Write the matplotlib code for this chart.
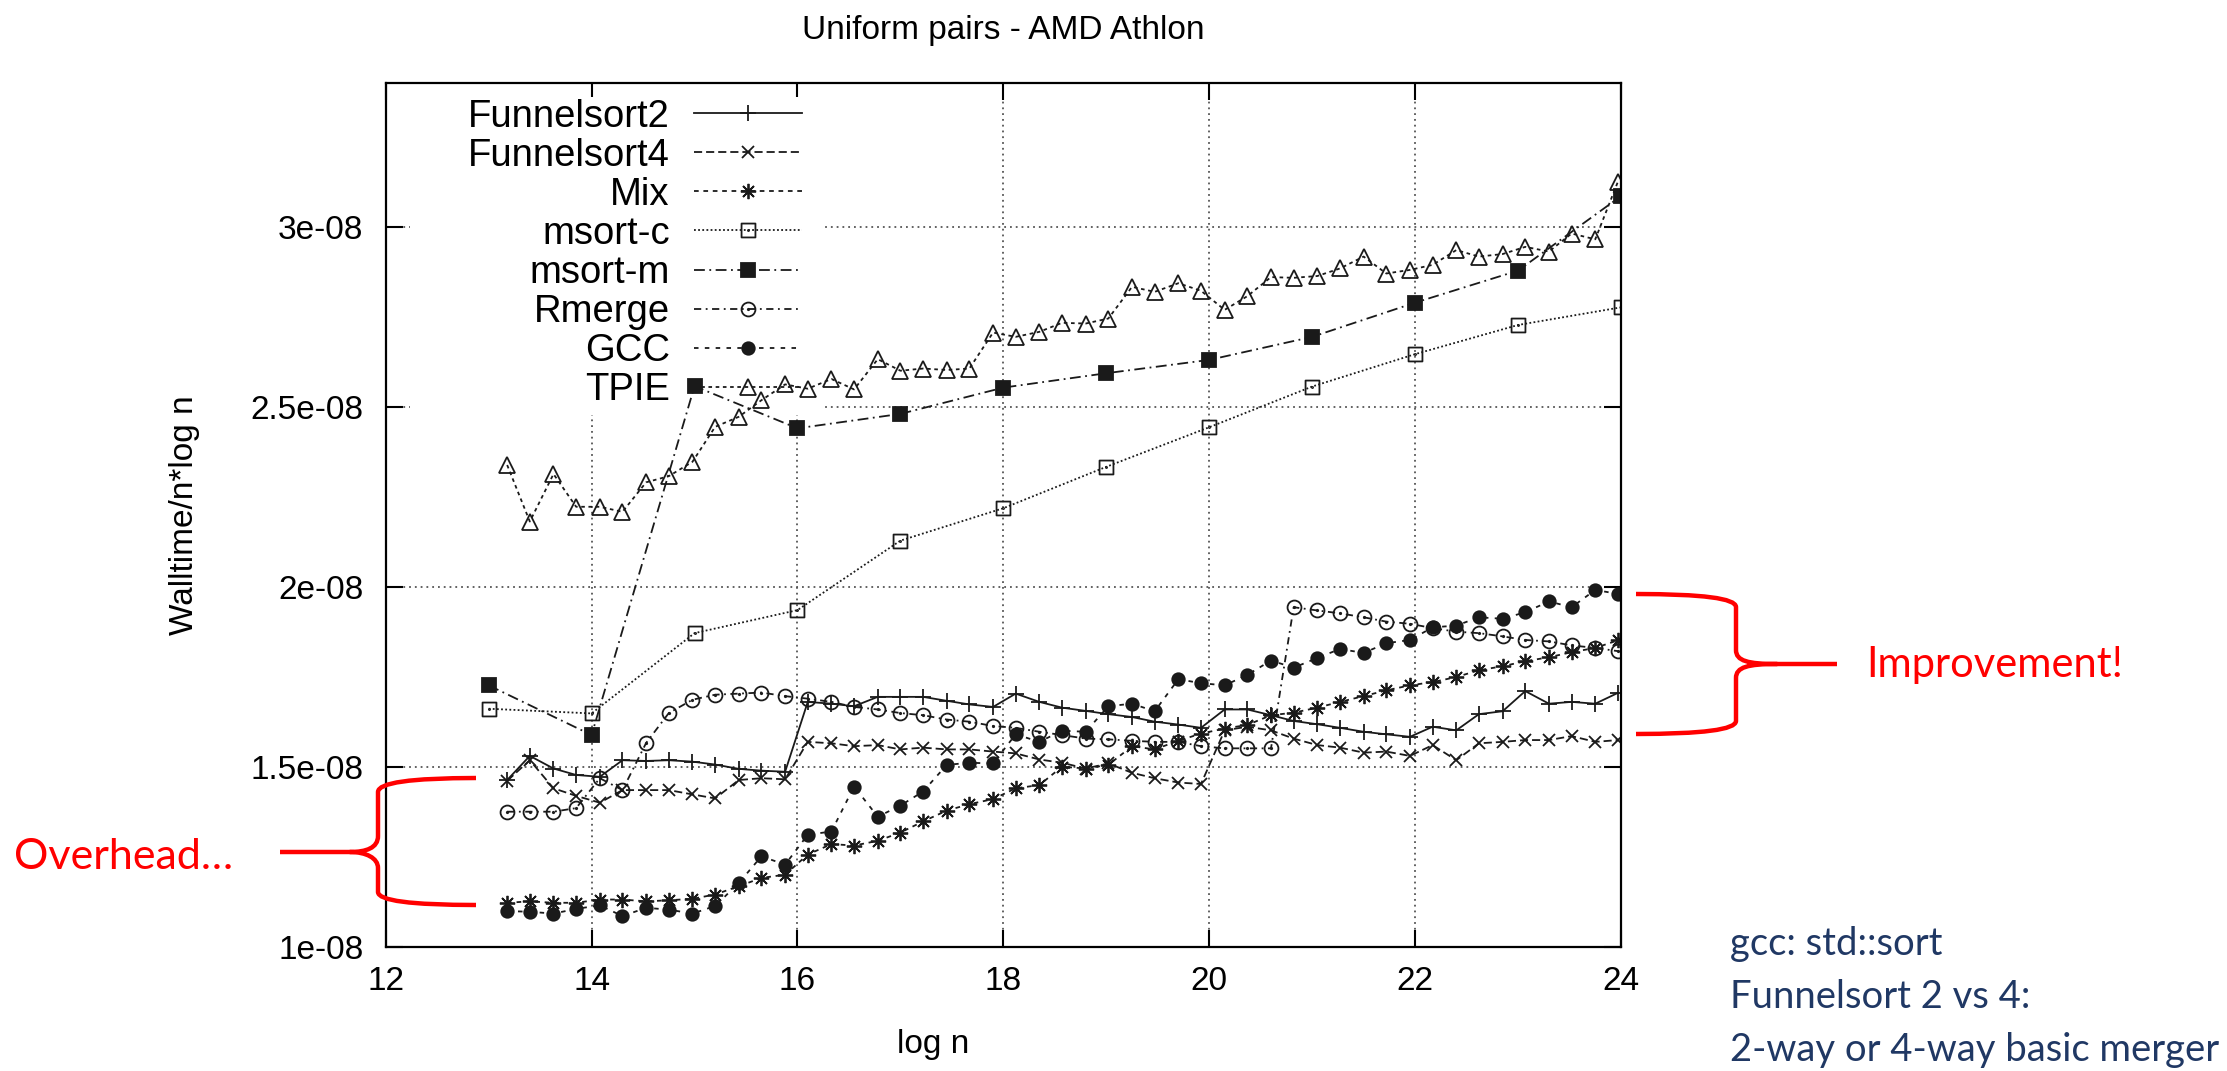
import numpy as np
import matplotlib
matplotlib.use("Agg")
import matplotlib.pyplot as plt
from matplotlib.path import Path
from matplotlib.patches import PathPatch, Rectangle

# ---------------- data (walltime / (n log n), in units of 1e-8) ----------------
log_n = [13.18, 13.40, 13.63, 13.85, 14.08, 14.30, 14.53, 14.75, 14.98, 15.20,
         15.43, 15.65, 15.88, 16.10, 16.33, 16.55, 16.78, 17.00, 17.22, 17.45,
         17.67, 17.90, 18.12, 18.35, 18.57, 18.80, 19.02, 19.25, 19.47, 19.70,
         19.92, 20.15, 20.37, 20.60, 20.82, 21.05, 21.27, 21.50, 21.72, 21.95,
         22.17, 22.40, 22.62, 22.85, 23.07, 23.30, 23.52, 23.75, 23.97]
log_n_int = [13, 14, 15, 16, 17, 18, 19, 20, 21, 22, 23, 24]

funnelsort2 = [1.463, 1.530, 1.495, 1.477, 1.472, 1.518, 1.516, 1.518, 1.514, 1.506,
               1.494, 1.489, 1.486, 1.680, 1.675, 1.668, 1.694, 1.694, 1.694, 1.683,
               1.673, 1.666, 1.703, 1.680, 1.664, 1.655, 1.646, 1.638, 1.625, 1.617,
               1.608, 1.659, 1.659, 1.643, 1.627, 1.618, 1.608, 1.597, 1.590, 1.583,
               1.611, 1.601, 1.646, 1.654, 1.710, 1.675, 1.680, 1.675, 1.705]
funnelsort4 = [1.461, 1.518, 1.440, 1.419, 1.400, 1.435, 1.435, 1.435, 1.423, 1.412,
               1.463, 1.468, 1.465, 1.569, 1.565, 1.557, 1.560, 1.548, 1.553, 1.548,
               1.548, 1.542, 1.537, 1.520, 1.511, 1.495, 1.509, 1.483, 1.468, 1.456,
               1.452, 1.601, 1.611, 1.601, 1.578, 1.560, 1.553, 1.539, 1.542, 1.530,
               1.560, 1.518, 1.565, 1.569, 1.574, 1.574, 1.585, 1.569, 1.574]
mix = [1.122, 1.126, 1.122, 1.122, 1.131, 1.131, 1.126, 1.129, 1.133, 1.145,
       1.168, 1.191, 1.200, 1.256, 1.285, 1.281, 1.294, 1.317, 1.348, 1.378,
       1.396, 1.410, 1.440, 1.449, 1.500, 1.495, 1.505, 1.557, 1.548, 1.572,
       1.592, 1.606, 1.616, 1.643, 1.650, 1.664, 1.680, 1.696, 1.712, 1.726,
       1.735, 1.749, 1.768, 1.779, 1.793, 1.804, 1.818, 1.830, 1.851]
msort_c = [1.661, 1.648, 1.871, 1.935, 2.128, 2.218, 2.333, 2.443, 2.556, 2.646, 2.727, 2.776]
msort_m = [1.726, 1.588, 2.557, 2.440, 2.480, 2.553, 2.593, 2.630, 2.694, 2.789, 2.878, 3.085]
rmerge = [1.375, 1.375, 1.375, 1.385, 1.468, 1.435, 1.566, 1.649, 1.686, 1.700,
          1.703, 1.706, 1.696, 1.689, 1.680, 1.666, 1.659, 1.649, 1.643, 1.631,
          1.625, 1.613, 1.608, 1.597, 1.588, 1.578, 1.576, 1.572, 1.569, 1.569,
          1.557, 1.551, 1.551, 1.551, 1.943, 1.934, 1.926, 1.915, 1.903, 1.897,
          1.885, 1.875, 1.871, 1.862, 1.852, 1.848, 1.837, 1.830, 1.821]
gcc = [1.099, 1.097, 1.092, 1.105, 1.115, 1.085, 1.108, 1.103, 1.092, 1.113,
       1.177, 1.251, 1.228, 1.311, 1.320, 1.445, 1.361, 1.392, 1.431, 1.505,
       1.511, 1.509, 1.590, 1.569, 1.600, 1.597, 1.668, 1.675, 1.654, 1.743,
       1.732, 1.726, 1.755, 1.795, 1.775, 1.802, 1.827, 1.816, 1.843, 1.852,
       1.887, 1.892, 1.915, 1.911, 1.929, 1.959, 1.943, 1.991, 1.980]
tpie = [2.338, 2.181, 2.313, 2.222, 2.222, 2.208, 2.290, 2.307, 2.347, 2.444,
        2.472, 2.518, 2.562, 2.550, 2.577, 2.548, 2.632, 2.600, 2.606, 2.602,
        2.606, 2.706, 2.694, 2.708, 2.733, 2.731, 2.745, 2.833, 2.819, 2.843,
        2.822, 2.769, 2.807, 2.860, 2.858, 2.863, 2.884, 2.917, 2.870, 2.880,
        2.894, 2.935, 2.917, 2.924, 2.944, 2.931, 2.981, 2.965, 3.125]
unit = 1e-8

xticks = [12, 14, 16, 18, 20, 22, 24]
yticks = [1.0, 1.5, 2.0, 2.5, 3.0]
ytick_labels = ["1e-08", "1.5e-08", "2e-08", "2.5e-08", "3e-08"]

# ---------------- figure ----------------
plt.rcParams["font.family"] = ["Liberation Sans", "DejaVu Sans"]
W, H = 2227, 1071
fig = plt.figure(figsize=(W / 100, H / 100), dpi=100)


def fx(px):
    return px / W


def fy(py):
    return 1 - py / H


AX_L, AX_R, AX_T, AX_B = 385.7, 1621.0, 82.7, 946.7
ax = fig.add_axes([fx(AX_L), fy(AX_B), (AX_R - AX_L) / W, (AX_B - AX_T) / H])

# marker shapes with a centre dot (gnuplot style)
sq = Path([(-1, -1), (1, -1), (1, 1), (-1, 1), (-1, -1)],
          [Path.MOVETO, Path.LINETO, Path.LINETO, Path.LINETO, Path.CLOSEPOLY])
sq_dot = Path.make_compound_path(sq, Path.circle((0, 0), 0.08))
circ_dot = Path.make_compound_path(Path.unit_circle(), Path.circle((0, 0), 0.1))

lw = 1.3
col = "#1a1a1a"
series = [
    ("Funnelsort2", log_n, funnelsort2, dict(ls="-", marker="+", ms=11)),
    ("Funnelsort4", log_n, funnelsort4, dict(ls=(0, (4.5, 2.2)), marker="x", ms=9)),
    ("Mix", log_n, mix, dict(ls=(0, (2.6, 2.6)), marker=(8, 2, 0), ms=11)),
    ("msort-c", log_n_int, msort_c, dict(ls=(0, (1, 1.3)), marker=sq_dot, ms=10, mfc="none")),
    ("msort-m", log_n_int, msort_m, dict(ls=(0, (6, 2.5, 1, 2.5)), marker="s", ms=10)),
    ("Rmerge", log_n, rmerge, dict(ls=(0, (4, 2.5, 1, 2.5)), marker=circ_dot, ms=10, mfc="none")),
    ("GCC", log_n, gcc, dict(ls=(0, (2.5, 3.5)), marker="o", ms=9)),
    ("TPIE", log_n, tpie, dict(ls=(0, (2, 2)), marker="^", ms=11, mfc="none")),
]
for name, xs, ys, st in series:
    ax.plot(xs, np.array(ys) * unit, color=col, lw=lw, mec=col, mew=1.3,
            label=name, zorder=2, **st)

ax.set_xlim(12, 24)
ax.set_ylim(1.0 * unit, 3.4 * unit)
ax.set_xticks(xticks)
ax.set_xticklabels([str(t) for t in xticks])
ax.set_yticks([v * unit for v in yticks])
ax.set_yticklabels(ytick_labels)
ax.set_axisbelow(True)
ax.grid(True, linestyle=(0, (1, 2.2)), color="#555555", lw=1.3)
ax.tick_params(axis="both", direction="in", top=True, right=True,
               length=12, width=1.5, labelsize=24)
ax.tick_params(axis="y", pad=16)
ax.tick_params(axis="x", pad=14)
for s in ax.spines.values():
    s.set_linewidth(1.6)

# key area is kept clear of grid lines (as gnuplot does)
ax.add_patch(Rectangle((0.0197, 0.6154), 0.3359, 0.368, transform=ax.transAxes,
                       fc="white", ec="none", zorder=1.5))

leg = ax.legend(loc="upper right", bbox_to_anchor=(0.3463, 0.9948), frameon=False,
                markerfirst=False, fontsize=27.5, handlelength=2.84,
                handletextpad=0.62, labelspacing=0.08, borderpad=0.3,
                borderaxespad=0, numpoints=1)

fig.text(fx(1003), fy(31), "Uniform pairs - AMD Athlon", ha="center", va="center", fontsize=24)
fig.text(fx(185), fy(514.7), "Walltime/n*log n", ha="center", va="center",
         rotation=90, fontsize=24)
fig.text(fx(933), fy(1045), "log n", ha="center", va="center", fontsize=24)

# ---------------- slide annotations ----------------
red = "#ff0000"
navy = "#203864"


def add_path(pts_codes, **kw):
    verts = [(fx(x), fy(y)) for (x, y), c in pts_codes]
    codes = [c for _, c in pts_codes]
    fig.add_artist(PathPatch(Path(verts, codes), transform=fig.transFigure,
                             fc="none", **kw))


M, L, C3, C4 = Path.MOVETO, Path.LINETO, Path.CURVE3, Path.CURVE4
# left brace "{" + connector
add_path([((476, 778), M), ((378, 778), C3), ((378, 792), C3), ((378, 836), L),
          ((378, 848), C4), ((366, 852), C4), ((350, 852), C4),
          ((366, 852), C4), ((378, 858), C4), ((378, 868), C4),
          ((378, 892), L), ((378, 905), C3), ((476, 905), C3),
          ((280, 852), M), ((350, 852), L)],
         ec=red, lw=3.2, capstyle="butt", joinstyle="round")
# right brace "}" + connector
add_path([((1636, 594), M), ((1736, 594), C3), ((1736, 607), C3), ((1736, 650), L),
          ((1736, 661), C4), ((1748, 664), C4), ((1777, 664), C4),
          ((1748, 664), C4), ((1736, 667), C4), ((1736, 678), C4),
          ((1736, 721), L), ((1736, 734), C3), ((1636, 734), C3),
          ((1777, 664), M), ((1837, 664), L)],
         ec=red, lw=3.2, capstyle="butt", joinstyle="round")

fig.text(fx(14), fy(857), "Overhead\u2026", ha="left", va="center",
         fontsize=31, color=red, family=["Lato", "DejaVu Sans"])
fig.text(fx(1866), fy(665), "Improvement!", ha="left", va="center",
         fontsize=30, color=red, family=["Lato", "DejaVu Sans"])
for i, line in enumerate(["gcc: std::sort", "Funnelsort 2 vs 4:", "2-way or 4-way basic merger"]):
    fig.text(fx(1730), fy(944 + 53 * i), line, ha="left", va="center",
             fontsize=27.5, color=navy, family=["Lato", "DejaVu Sans"])

fig.savefig("out.png", dpi=100)
